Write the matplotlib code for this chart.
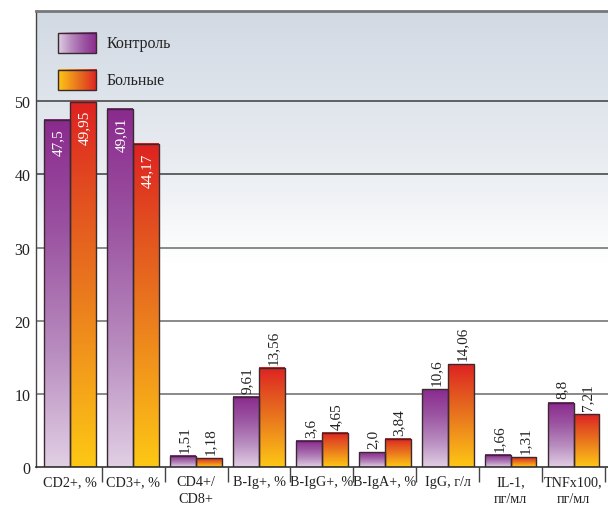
import numpy as np
import matplotlib
matplotlib.use("Agg")
import matplotlib.pyplot as plt
from matplotlib.colors import LinearSegmentedColormap
from matplotlib.patches import Rectangle

# Data
categories = ["CD2+, %", "CD3+, %", "CD4+/\nCD8+", "B-Ig+, %", "B-IgG+, %",
              "B-IgA+, %", "IgG, г/л", "IL-1,\nпг/мл", "TNFx100,\nпг/мл"]
control_labels = ["47,5", "49,01", "1,51", "9,61", "3,6", "2,0", "10,6", "1,66", "8,8"]
patient_labels = ["49,95", "44,17", "1,18", "13,56", "4,65", "3,84", "14,06", "1,31", "7,21"]
control = [float(s.replace(",", ".")) for s in control_labels]
patients = [float(s.replace(",", ".")) for s in patient_labels]
series_names = ["Контроль", "Больные"]
yticks = [0, 10, 20, 30, 40, 50]

plt.rcParams["font.family"] = ["Liberation Serif", "DejaVu Serif"]

purple_cmap = LinearSegmentedColormap.from_list(
    "purple", ["#e1cfe4", "#b88cbf", "#9c55a2", "#8a2a8e"])
orange_cmap = LinearSegmentedColormap.from_list(
    "orange", ["#fdc814", "#f49f1a", "#e9761e", "#e24e20", "#de2222"])
edge = "#3a2a2e"
text_color = "#222222"

fig = plt.figure(figsize=(6.08, 5.06), dpi=100)
ax = fig.add_axes([36 / 608, 1 - 468 / 506, 572 / 608, (468 - 12.3) / 506])

ymax = 62.3
ax.set_xlim(-0.545, 8.548)
ax.set_ylim(0, ymax)

# background: bluish grey at the top fading to white
bg = np.linspace(0, 1, 256).reshape(-1, 1)
bg_cmap = LinearSegmentedColormap.from_list(
    "bg", [(0.0, "#ffffff"), (0.45, "#ffffff"), (0.62, "#edf0f4"), (1.0, "#d1d9e3")])
ax.imshow(bg, cmap=bg_cmap, origin="lower", extent=[0, 1, 0, 1],
          transform=ax.transAxes, aspect="auto", zorder=0)

for y in yticks[1:]:
    ax.axhline(y, color="#3c3c3c" if y >= 40 else "#6a6a6a", lw=1.1, zorder=1)

grad = np.linspace(0, 1, 256).reshape(-1, 1)
bw = 0.41
x = np.arange(len(categories))
for vals, labels, cmap, off in [(control, control_labels, purple_cmap, -bw / 2),
                                (patients, patient_labels, orange_cmap, bw / 2)]:
    for xi, v, lab in zip(x, vals, labels):
        x0 = xi + off - bw / 2
        ax.imshow(grad, cmap=cmap, origin="lower", extent=[x0, x0 + bw, 0, v],
                  aspect="auto", zorder=2)
        ax.add_patch(Rectangle((x0, 0), bw, v, fill=False, ec=edge, lw=1.0, zorder=3))
        if v > 30:
            ax.annotate(lab, (xi + off, v), xytext=(1, -6), textcoords="offset points",
                        rotation=90, ha="center", va="top", color="white",
                        fontsize=11, zorder=4)
        else:
            ax.annotate(lab, (xi + off, v), xytext=(1, 3), textcoords="offset points",
                        rotation=90, ha="center", va="bottom", color=text_color,
                        fontsize=11, zorder=4)

ax.set_xlim(-0.545, 8.548)
ax.set_ylim(0, ymax)

ax.set_yticks(yticks)
ax.set_yticklabels([str(t) for t in yticks], fontsize=11.5, color=text_color)
ax.tick_params(axis="y", length=0, pad=4)
ax.set_xticks(x)
ax.set_xticklabels(categories, fontsize=10.2, color=text_color, linespacing=1.35)
ax.tick_params(axis="x", which="major", length=0, pad=6)
ax.set_xticks(np.arange(len(categories)) + 0.5, minor=True)
ax.tick_params(axis="x", which="minor", length=11, width=1, color="#444444", direction="out")

for side in ["top", "right"]:
    ax.spines[side].set_visible(False)
ax.spines["left"].set_color("#444444")
ax.spines["bottom"].set_color("#333333")
ax.spines["left"].set_linewidth(1.0)
ax.spines["bottom"].set_linewidth(1.2)
ax.axhline(ymax, color="#777777", lw=2, zorder=5, clip_on=False)

# legend
hgrad = np.linspace(0, 1, 256).reshape(1, -1)
for (y0, y1), cmap, name in [((0.908, 0.952), purple_cmap, series_names[0]),
                             ((0.827, 0.871), orange_cmap, series_names[1])]:
    ax.imshow(hgrad, cmap=cmap, extent=[0.0385, 0.105, y0, y1],
              transform=ax.transAxes, aspect="auto", zorder=6)
    ax.add_patch(Rectangle((0.0385, y0), 0.105 - 0.0385, y1 - y0, fill=False,
                           ec=edge, lw=1.0, transform=ax.transAxes, zorder=7))
    ax.text(0.124, (y0 + y1) / 2, name, transform=ax.transAxes, fontsize=11.5,
            va="center", ha="left", color=text_color, zorder=7)

fig.savefig("out.png", dpi=100)
